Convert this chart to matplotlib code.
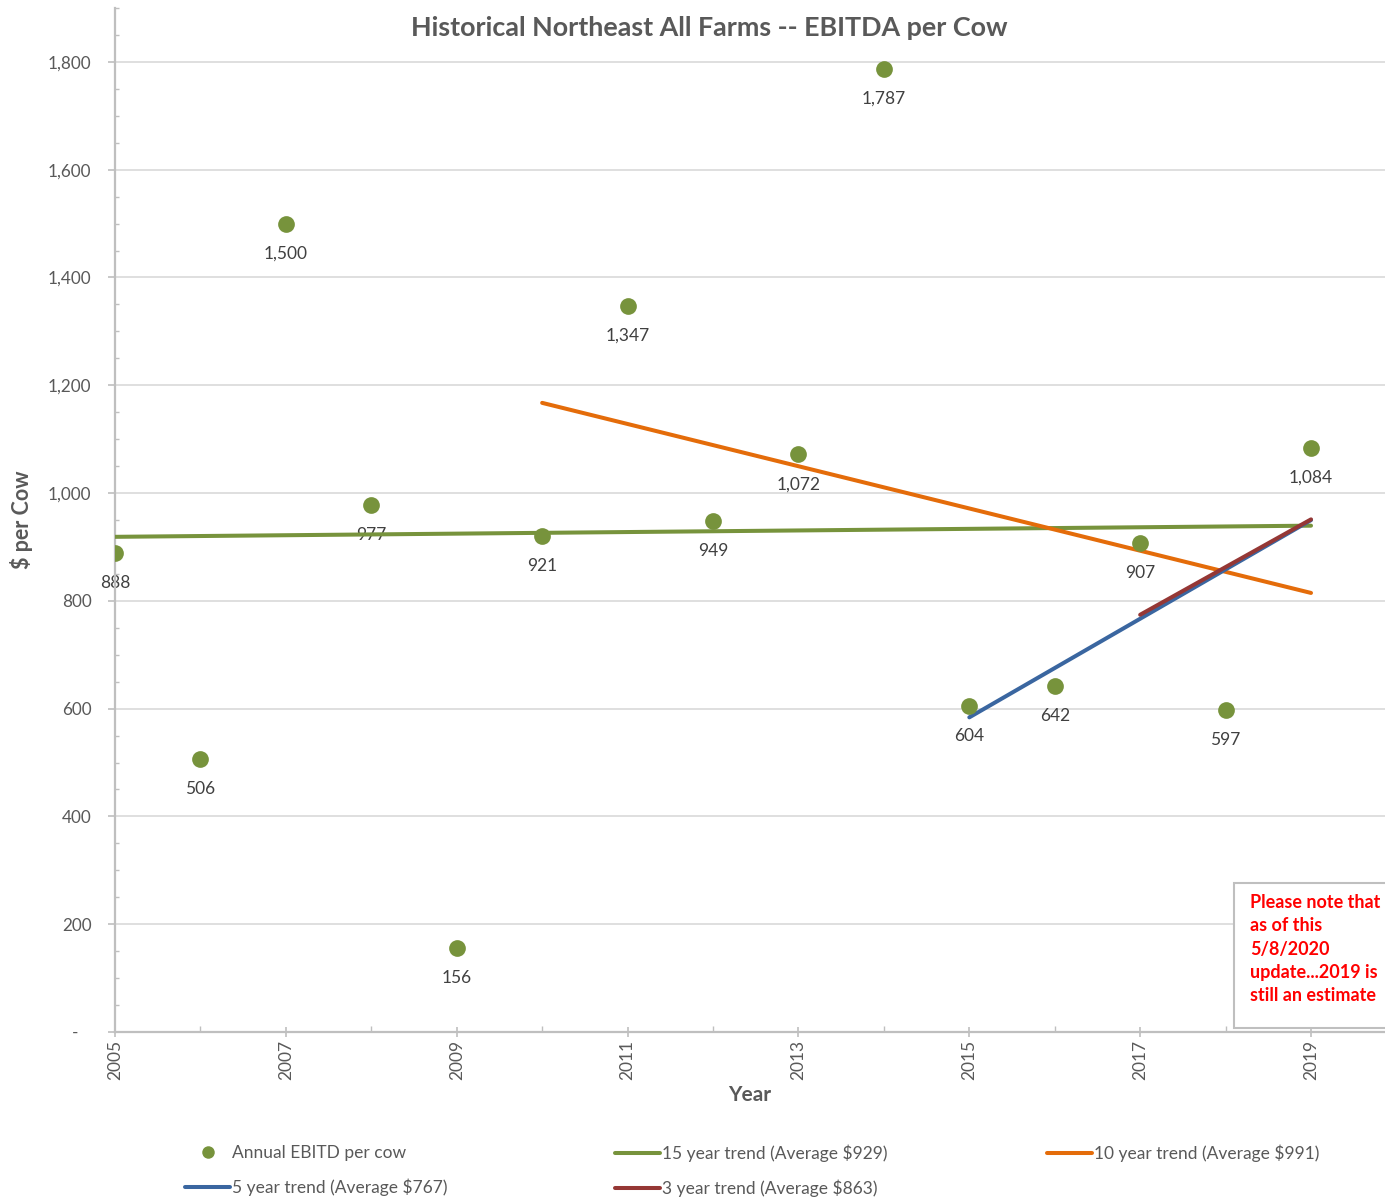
import numpy as np
import matplotlib
matplotlib.use("Agg")
import matplotlib.pyplot as plt
from matplotlib.lines import Line2D
from matplotlib.patches import Rectangle
from matplotlib.ticker import FuncFormatter, MultipleLocator

plt.rcParams['font.family'] = ['Lato', 'DejaVu Sans']

# Annual EBITDA per cow, Northeast all farms
years = [2005, 2006, 2007, 2008, 2009, 2010, 2011, 2012, 2013, 2014,
         2015, 2016, 2017, 2018, 2019]
ebitda = [888, 506, 1500, 977, 156, 921, 1347, 949, 1072, 1787,
          604, 642, 907, 597, 1084]

# Trend windows (number of most recent years) and their colours
trend_windows = [15, 10, 5, 3]
trend_colors = ['#77933C', '#E46C0A', '#3A66A0', '#953735']

title = "Historical Northeast All Farms -- EBITDA per Cow"
note = "Please note that\nas of this\n5/8/2020\nupdate...2019 is\nstill an estimate"

W, H = 1385, 1199
fig = plt.figure(figsize=(W / 100, H / 100), dpi=100)
ax = fig.add_axes([115 / W, 1 - 1032 / H, 1270 / W, 1024 / H])

x = np.array(years, dtype=float)
y = np.array(ebitda, dtype=float)

# Scatter of annual values
ax.scatter(x, y, s=145, color='#77933C', zorder=5, linewidths=0,
           label='Annual EBITD per cow')

# Value labels under each point
for xi, yi in zip(x, y):
    ax.annotate(f"{int(yi):,}", (xi, yi), xytext=(0, -30),
                textcoords='offset pixels', ha='center', va='center',
                fontsize=12.5, color='#404040', zorder=2)

# Linear trends over the last N years
trend_handles = {}
for n, c in zip(trend_windows, trend_colors):
    xs, ys = x[-n:], y[-n:]
    k, b = np.polyfit(xs, ys, 1)
    ends = np.array([xs[0], xs[-1]])
    line, = ax.plot(ends, k * ends + b, color=c, lw=2.9,
                    solid_capstyle='round', zorder=4,
                    label=f"{n} year trend (Average ${ys.mean():,.0f})")
    trend_handles[n] = line

ax.set_xlim(2005, 2005 + 1270 / 85.43)
ax.set_ylim(0, 1900)

ax.xaxis.set_major_locator(MultipleLocator(2))
ax.xaxis.set_minor_locator(MultipleLocator(1))
ax.yaxis.set_major_locator(MultipleLocator(200))
ax.yaxis.set_minor_locator(MultipleLocator(50))
ax.set_xticks(years[::2])
ax.set_xticklabels([str(v) for v in years[::2]], rotation=90)

ax.yaxis.set_major_formatter(FuncFormatter(lambda v, p: "-   " if v == 0 else f"{int(v):,}"))

grey = '#BFBFBF'
for s in ['top', 'right']:
    ax.spines[s].set_visible(False)
for s in ['left', 'bottom']:
    ax.spines[s].set_color(grey)
    ax.spines[s].set_linewidth(1.6)

ax.tick_params(axis='y', which='major', direction='out', length=5, width=1.2,
               color=grey, labelsize=12.3, labelcolor='#595959', pad=12)
ax.tick_params(axis='y', which='minor', direction='in', length=3, width=1,
               color=grey)
ax.tick_params(axis='x', which='major', direction='inout', length=7, width=1.2,
               color=grey, labelsize=12.5, labelcolor='#595959', pad=2)
ax.tick_params(axis='x', which='minor', direction='in', length=4, width=1,
               color=grey)

ax.grid(axis='y', which='major', color='#D9D9D9', lw=1.2, zorder=0)
ax.set_axisbelow(True)

ax.set_xlabel("Year", fontsize=15, fontweight='bold', color='#595959',
              labelpad=4)
ax.set_ylabel("$ per Cow", fontsize=15.5, fontweight='bold', color='#595959')
ax.yaxis.set_label_coords((33 - 115) / 1270, 0.5)

fig.text(709 / W, 1 - 28 / H, title, ha='center', va='center',
         fontsize=19.4, fontweight='bold', color='#595959')

# Note box in the lower right
fig.patches.append(Rectangle((1234 / W, 1 - 1028 / H), 160 / W, 145 / H,
                             transform=fig.transFigure, fill=True,
                             facecolor='white', edgecolor=grey, lw=1.5,
                             zorder=6))
fig.text(1250 / W, 1 - 894 / H, note, ha='left', va='top', fontsize=13,
         fontweight='bold', color='#FF0000', linespacing=1.45, zorder=7)

# Legend in three columns beneath the plot
dot = Line2D([], [], ls='none', marker='o', markersize=9,
             color='#77933C', markeredgewidth=0)
columns = [
    ([dot, trend_handles[5]],
     ['Annual EBITD per cow', trend_handles[5].get_label()], 185),
    ([trend_handles[15], trend_handles[3]],
     [trend_handles[15].get_label(), trend_handles[3].get_label()], 615),
    ([trend_handles[10]], [trend_handles[10].get_label()], 1047),
]
for hs, ls, xpix in columns:
    lg = fig.legend(hs, ls, loc='upper left',
                    bbox_to_anchor=(xpix / W, 1 - 1145 / H),
                    bbox_transform=fig.transFigure, frameon=False,
                    borderpad=0, borderaxespad=0, handlelength=2.6,
                    handletextpad=0.12, labelspacing=1.0, fontsize=12.5,
                    labelcolor='#595959')

fig.savefig("out.png", dpi=100)
